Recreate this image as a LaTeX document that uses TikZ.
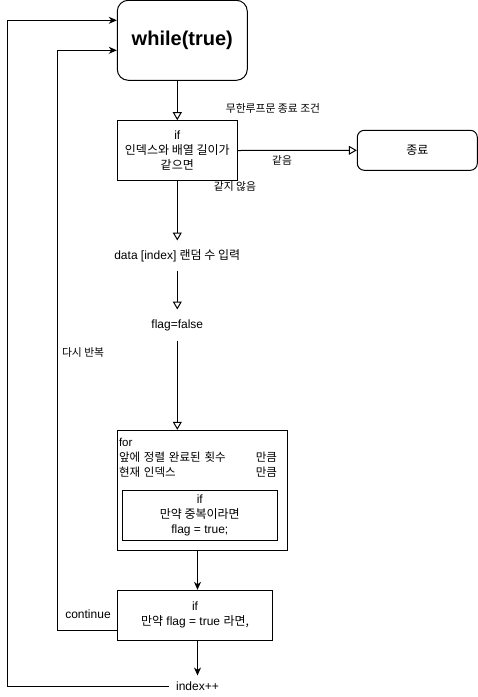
\documentclass[tikz,border=0pt]{standalone}
\usepackage{fontspec}
\setmainfont{Liberation Sans}
\newfontfamily\krfont{Noto Sans CJK KR}
\newcommand{\kr}[1]{{\krfont #1}}
\usetikzlibrary{arrows.meta, positioning}

\begin{document}
\begin{tikzpicture}[
  x=1pt, y=-1pt,
  line width=1pt,
  box/.style={rectangle, draw, fill=white, align=center, inner sep=2pt,
              font=\fontsize{12}{15}\selectfont},
  rbox/.style={box, rounded corners=7pt},
  txt/.style={align=center, inner sep=0pt, font=\fontsize{12}{15}\selectfont},
  note/.style={inner sep=0pt, font=\fontsize{10.8}{13}\selectfont},
  openarr/.style={-{Triangle[open, length=8pt, width=9pt]}},
  fillarr/.style={-{Stealth[length=8pt, width=7pt, inset=2.5pt]}},
]
\useasboundingbox (0,0) rectangle (478,697);

% main loop head
\node[rbox, rounded corners=11pt, minimum width=130, minimum height=80,
      font=\fontsize{20}{24}\selectfont\bfseries] (while) at (182.3,40.3) {while(true)};
\node[box, minimum width=120, minimum height=59.6] (cond) at (177.3,150.5)
  {if\\\kr{인덱스와 배열 길이가}\\\kr{같으면}};
\node[rbox, minimum width=120, minimum height=40] (exit) at (417.3,150.3) {\kr{종료}};

% body
\node[txt, minimum width=140, minimum height=29] (input) at (177.3,255.5)
  {data [index] \kr{랜덤 수 입력}};
\node[txt, minimum width=70, minimum height=30] (flagf) at (177.3,325) {flag=false};

\node[box, minimum width=170, minimum height=120] (forbox) at (202.3,490.3) {};
\node[txt, anchor=north west, align=left, text width=158,
      font=\fontsize{11.5}{15}\selectfont] (forhd) at (118.5,438)
  {for\\\kr{앞에 정렬 완료된 횟수}\hfill\kr{만큼}\\\kr{현재 인덱스}\hfill\kr{만큼}};
\node[box, minimum width=155, minimum height=50] (dup) at (199.8,515.3)
  {if\\\kr{만약 중복이라면}\\flag = true;};

\node[box, minimum width=155.4, minimum height=50] (chk) at (195,615.3)
  {if\\\kr{만약} flag = true \kr{라면,}};
\node[txt, minimum width=56, minimum height=20] (inc) at (197.5,686) {index++};

% labels
\node[note] (endcond) at (273,108) {\kr{무한루프문 종료 조건}};
\node[note] (same) at (282,160.5) {\kr{같음}};
\node[note] (diff) at (235,186.5) {\kr{같지 않음}};
\node[note, anchor=west] (again) at (61.5,352) {\kr{다시 반복}};
\node[txt] (cont) at (88,614) {continue};

\coordinate (outer) at (7.3,20.3);
\coordinate (inner) at (57.7,50.3);

% connectors
\draw[openarr] (cond.north |- while.south) -- (cond.north);
\draw[openarr] (cond.east) -- (exit.west);
\draw[openarr] (cond.south) -- (input.north);
\draw[openarr] (input.south) -- (flagf.north);
\draw[openarr] (flagf.south) -- (flagf.south |- forbox.north);
\draw[fillarr] (inc.north |- forbox.south) -- (inc.north |- chk.north);
\draw[fillarr] (inc.north |- chk.south) -- (inc.north);
\draw[fillarr] ([yshift=-15pt]chk.west) -| (inner) -- (while.west |- inner);
\draw[fillarr] (inc.west) -| (outer) -- (while.west |- outer);
\end{tikzpicture}
\end{document}
